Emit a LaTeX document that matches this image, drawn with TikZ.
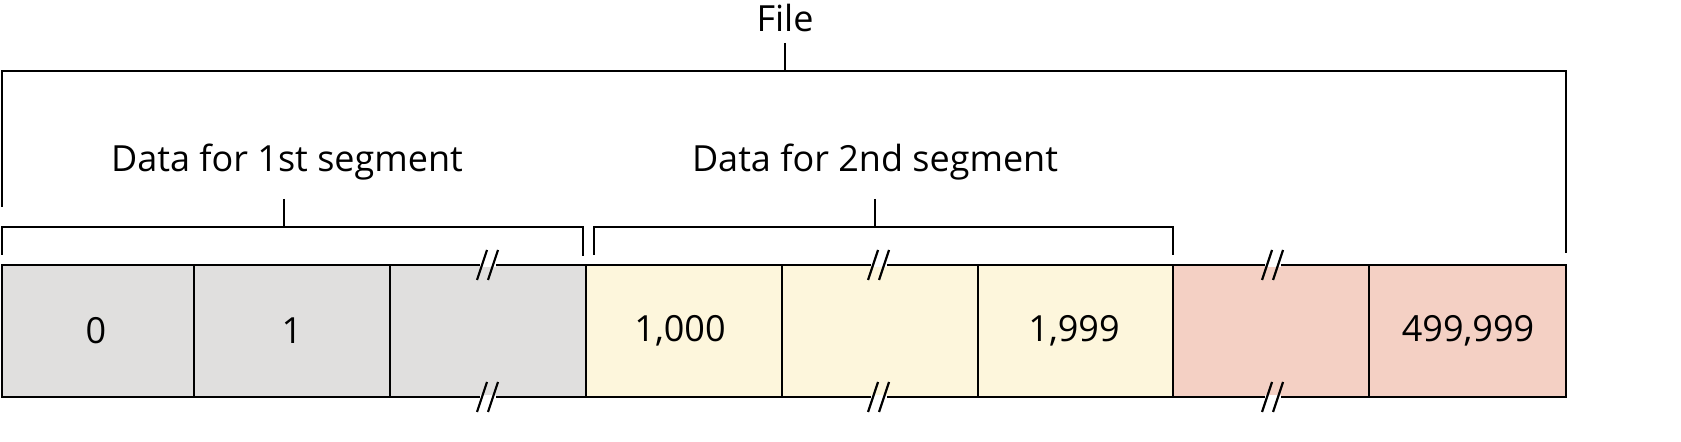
\documentclass[tikz,border=0pt]{standalone}
\usepackage{fontspec}
\setmainfont{Open Sans}
\definecolor{cgray}{HTML}{E0DFDE}
\definecolor{cyel}{HTML}{FDF6DC}
\definecolor{cpink}{HTML}{F4D0C4}
\begin{document}
\begin{tikzpicture}[x=0.5pt,y=-0.5pt,
  cell/.style={draw,line width=1pt},
  br/.style={line width=0.9pt},
  lbl/.style={font=\fontsize{18}{21}\selectfont},
  num/.style={font=\fontsize{18}{21}\selectfont}]
\foreach \a/\b/\c [count=\i] in {2/194/cgray,194/390/cgray,390/586/cgray,586/782/cyel,782/978/cyel,978/1173/cyel,1173/1369/cpink,1369/1566/cpink}
  \draw[cell,fill=\c] (\a,265) rectangle (\b,397);
\node[num] (n0) at (96,331) {0};
\node[num] (n1) at (292,331) {1};
\node[num] (n1000) at (680,331) {1,000};
\node[num] (n1999) at (1074,331) {1,999};
\node[num] (n499) at (1468,331) {499,999};
\foreach \x in {488,879,1273}{
  \foreach \y in {265,397}{
    \fill[white] (\x-8,\y-2) rectangle (\x+8,\y+2);
    \draw[br,line width=1.1pt] (\x-11,\y+15) -- (\x-1,\y-15);
    \draw[br,line width=1.1pt] (\x,\y+15) -- (\x+10,\y-15);
  }}
\node[lbl] (file) at (785,18) {File};
\coordinate (fs) at (785,43);
\draw[br] (fs) -- (785,71);
\draw[br] (2,207) -- (2,71) -- (1566,71) -- (1566,253);
\node[lbl] (s1) at (287,162) {Data for 1st segment};
\draw[br] (284,199) -- (284,227);
\draw[br] (2,255) -- (2,227) -- (583,227) -- (583,256);
\node[lbl] (s2) at (875,162) {Data for 2nd segment};
\draw[br] (875,199) -- (875,227);
\draw[br] (594,255) -- (594,227) -- (1173,227) -- (1173,255);
\pgfresetboundingbox
\useasboundingbox (0,0) rectangle (1681,442);
\end{tikzpicture}
\end{document}
